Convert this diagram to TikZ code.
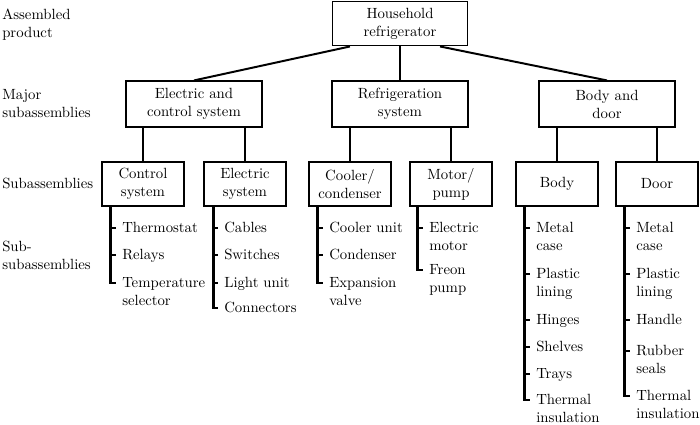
\documentclass[tikz,border=0pt]{standalone}
\usepackage{fontspec}
\usetikzlibrary{calc,positioning}
\tikzset{
  txt/.style={font=\fontsize{10.5}{12.8}\selectfont},
  box/.style={draw,line width=0.8pt,align=center,txt},
  major/.style={box,minimum width=3.4cm,minimum height=1.15cm},
  sub/.style={box,minimum width=2.05cm,minimum height=1.1cm},
  item/.style={anchor=north west,inner sep=0pt,align=left,txt},
  link/.style={line width=1.4pt},
  spine/.style={line width=2pt},
}

\begin{document}
\begin{tikzpicture}[x=0.025cm,y=-0.025cm]
  \useasboundingbox (0,0) rectangle (700,425);
  % level labels
  \node[item] (lbl1) at (2,9) {Assembled\\product};
  \node[item] (lbl2) at (2,89) {Major\\subassemblies};
  \node[item] (lbl3) at (2,178) {Subassemblies};
  \node[item] (lbl4) at (2,241) {Sub-\\subassemblies};

  % boxes
  \node[box,minimum width=3.38cm,minimum height=1.12cm] (top) at (400,23.5) {Household\\refrigerator};
  \node[major] (ecs) at (194,104) {Electric and\\control system};
  \node[major] (rs) at (400,104) {Refrigeration\\system};
  \node[major] (bd) at (607,104) {Body and\\door};
  \node[sub] (cs) at (143,184) {Control\\system};
  \node[sub] (es) at (245,184) {Electric\\system};
  \node[sub] (cc) at (350,184) {Cooler/\\condenser};
  \node[sub] (mp) at (451,184) {Motor/\\pump};
  \node[sub] (body) at (557,184) {Body};
  \node[sub] (door) at (657,184) {Door};

  \draw[link] ([xshift=-1.25cm]top.south) -- (ecs.north);
  \draw[link] (top.south) -- (rs.north);
  \draw[link] ([xshift=1cm]top.south) -- (bd.north);
  \draw[spine] (cs.north) -- (cs.north |- ecs.south);
  \draw[spine] (es.north) -- (es.north |- ecs.south);
  \draw[spine] (cc.north) -- (cc.north |- rs.south);
  \draw[spine] (mp.north) -- (mp.north |- rs.south);
  \draw[spine] (body.north) -- (body.north |- bd.south);
  \draw[spine] (door.north) -- (door.north |- bd.south);

  % sub-subassemblies
  \foreach \y/\t [count=\i] in {228/Thermostat,255/Relays,283/{Temperature\\selector}}
    \node[item] (cs\i) at (122,\y-6) {\t};
  \foreach \i in {1,2} \draw[spine] ($(cs\i.north west)+(-11,6)$) -- ++(5,0);
  \draw[spine] ($(cs.south west)+(9,0)$) |- ($(cs3.north west)+(-6,6)$);

  \foreach \y/\t [count=\i] in {228/Cables,255/Switches,283/Light unit,308/Connectors}
    \node[item] (es\i) at (224,\y-6) {\t};
  \foreach \i in {1,2,3} \draw[spine] ($(es\i.north west)+(-11,6)$) -- ++(5,0);
  \draw[spine] ($(es.south west)+(10,0)$) |- ($(es4.north west)+(-6,6)$);

  \foreach \y/\t [count=\i] in {228/Cooler unit,255/Condenser,283/{Expansion\\valve}}
    \node[item] (cc\i) at (329,\y-6) {\t};
  \foreach \i in {1,2} \draw[spine] ($(cc\i.north west)+(-11,6)$) -- ++(5,0);
  \draw[spine] ($(cc.south west)+(9,0)$) |- ($(cc3.north west)+(-6,6)$);

  \foreach \y/\t [count=\i] in {228/{Electric\\motor},270/{Freon\\pump}}
    \node[item] (mp\i) at (429,\y-6) {\t};
  \draw[spine] ($(mp1.north west)+(-11,6)$) -- ++(5,0);
  \draw[spine] ($(mp.south west)+(8,0)$) |- ($(mp2.north west)+(-6,6)$);

  \foreach \y/\t [count=\i] in {228/{Metal\\case},274/{Plastic\\lining},320/Hinges,347/Shelves,374/Trays,400/{Thermal\\insulation}}
    \node[item] (body\i) at (536,\y-6) {\t};
  \foreach \i in {1,...,5} \draw[spine] ($(body\i.north west)+(-11,6)$) -- ++(5,0);
  \draw[spine] ($(body.south west)+(9,0)$) |- ($(body6.north west)+(-6,6)$);

  \foreach \y/\t [count=\i] in {228/{Metal\\case},274/{Plastic\\lining},320/Handle,351/{Rubber\\seals},396/{Thermal\\insulation}}
    \node[item] (door\i) at (636,\y-6) {\t};
  \foreach \i in {1,...,4} \draw[spine] ($(door\i.north west)+(-11,6)$) -- ++(5,0);
  \draw[spine] ($(door.south west)+(9,0)$) |- ($(door5.north west)+(-6,6)$);
\end{tikzpicture}
\end{document}
